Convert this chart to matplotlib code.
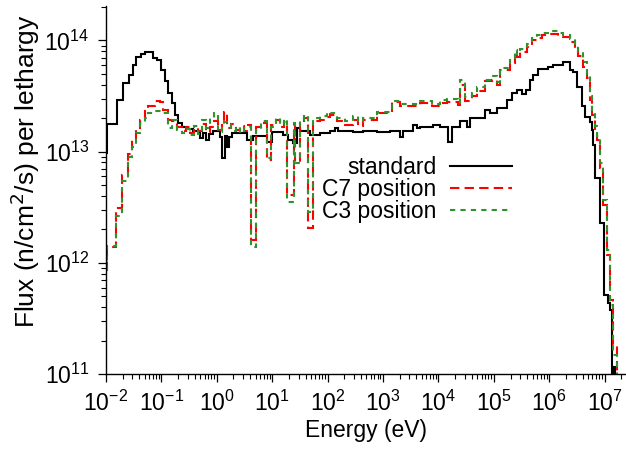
import matplotlib
matplotlib.use("Agg")
import matplotlib.pyplot as plt
from matplotlib.ticker import LogLocator, NullFormatter

plt.rcParams['font.family'] = ['Liberation Sans', 'DejaVu Sans']
plt.rcParams['axes.unicode_minus'] = False

# standard core: bin edges (eV) and flux per lethargy
std_edges = [1.00e-2, 1.03e-2, 1.56e-2, 2.05e-2, 2.63e-2, 3.11e-2, 3.48e-2, 4.23e-2, 5.06e-2, 6.22e-2,
             7.14e-2, 8.22e-2, 9.84e-2, 0.116, 0.133, 0.153, 0.176, 0.202, 0.232, 0.286,
             0.371, 0.498, 0.564, 0.638, 0.723, 0.853, 1.14, 1.24, 1.41, 1.53,
             1.66, 1.88, 3.51, 4.50, 8.06, 9.91, 15.7, 19.3, 23.7, 28.0,
             31.8, 48.1, 72.9, 110, 136, 154, 287, 436, 780, 1.34e3,
             2.03e3, 2.30e3, 3.48e3, 4.11e3, 4.66e3, 8.00e3, 1.07e4, 1.49e4, 1.76e4, 2.45e4,
             3.28e4, 3.72e4, 6.93e4, 8.54e4, 1.14e5, 1.73e5, 2.13e5, 2.62e5, 3.23e5, 3.81e5,
             4.50e5, 5.10e5, 6.28e5, 9.51e5, 1.17e6, 1.77e6, 2.37e6, 2.69e6, 3.18e6, 3.91e6,
             4.43e6, 5.45e6, 5.85e6, 6.25e6, 6.71e6, 8.26e6, 9.75e6, 1.15e7, 1.25e7, 1.36e7,
             1.42e7, 1.57e7, 1.75e7]
std_flux = [9.75e12, 1.78e13, 2.93e13, 4.16e13, 4.91e13, 6.04e13, 7.13e13, 7.59e13, 7.87e13, 7.96e13,
            6.98e13, 6.61e13, 5.45e13, 4.28e13, 3.38e13, 2.75e13, 2.14e13, 1.82e13, 1.67e13, 1.60e13,
            1.54e13, 1.33e13, 1.48e13, 1.28e13, 1.45e13, 1.54e13, 1.36e13, 8.79e12, 1.39e13, 1.10e13,
            1.36e13, 1.48e13, 1.28e13, 1.37e13, 1.23e13, 1.49e13, 1.42e13, 1.28e13, 1.20e13, 1.63e13,
            1.52e13, 1.42e13, 1.46e13, 1.52e13, 1.63e13, 1.54e13, 1.49e13, 1.52e13, 1.49e13, 1.52e13,
            1.35e13, 1.55e13, 1.74e13, 1.63e13, 1.68e13, 1.74e13, 1.68e13, 1.21e13, 1.68e13, 1.87e13,
            1.68e13, 2.00e13, 2.38e13, 2.22e13, 2.46e13, 2.93e13, 3.36e13, 3.60e13, 3.31e13, 3.60e13,
            4.43e13, 4.91e13, 5.53e13, 5.83e13, 6.04e13, 6.34e13, 5.45e13, 5.26e13, 3.85e13, 2.55e13,
            2.07e13, 1.85e13, 1.57e13, 1.15e13, 5.81e12, 2.29e12, 5.14e11, 4.36e11, 3.77e11, 5e10,
            1.16e11, 5e10]

# C7 / C3 positions share the same bins
pos_edges = [1.00e-2, 1.03e-2, 1.50e-2, 1.97e-2, 2.53e-2, 2.98e-2, 3.44e-2, 4.11e-2, 5.06e-2, 5.80e-2,
             7.66e-2, 9.43e-2, 0.108, 0.133, 0.153, 0.189, 0.232, 0.278, 0.328, 0.387,
             0.458, 0.541, 0.638, 0.754, 0.889, 1.05, 1.24, 1.35, 1.53, 1.80,
             2.22, 2.62, 3.10, 3.66, 4.09, 5.10, 6.28, 8.06, 9.40, 11.7,
             13.8, 16.3, 18.7, 24.8, 25.8, 31.8, 37.5, 44.9, 53.8, 72.9,
             96.4, 110, 146, 206, 291, 358, 441, 769, 1.44e3, 2.03e3,
             4.66e3, 7.57e3, 1.07e4, 1.41e4, 2.29e4, 2.45e4, 3.02e4, 3.99e4, 4.91e4, 6.93e4,
             9.16e4, 1.13e5, 1.29e5, 1.96e5, 2.41e5, 2.59e5, 2.97e5, 3.93e5, 4.83e5, 5.94e5,
             7.32e5, 1.03e6, 1.46e6, 1.80e6, 2.37e6, 2.92e6, 3.35e6, 4.13e6, 4.75e6, 5.45e6,
             5.93e6, 6.71e6, 7.29e6, 8.26e6, 9.48e6, 1.09e7, 1.25e7, 1.44e7, 1.67e7, 1.90e7]
c7_flux = [8.6e11, 1.40e12, 3.10e12, 6.18e12, 9.55e12, 1.28e13, 1.63e13, 1.93e13, 2.30e13, 2.58e13,
           2.87e13, 2.82e13, 2.38e13, 1.93e13, 1.87e13, 1.66e13, 1.54e13, 1.67e13, 1.48e13, 1.64e13,
           1.54e13, 1.78e13, 1.51e13, 1.67e13, 1.89e13, 1.57e13, 1.74e13, 2.28e13, 1.64e13, 1.78e13,
           1.57e13, 1.71e13, 1.54e13, 1.74e13, 1.61e12, 1.67e13, 1.82e13, 8.44e12, 1.74e13, 1.93e13,
           1.67e13, 1.85e13, 4.08e12, 1.74e13, 8.15e12, 1.78e13, 2.01e13, 2.06e12, 1.89e13, 1.93e13,
           2.06e13, 2.14e13, 1.87e13, 1.74e13, 1.93e13, 1.71e13, 1.93e13, 2.22e13, 2.82e13, 2.55e13,
           2.73e13, 2.55e13, 2.73e13, 2.82e13, 2.64e13, 3.99e13, 2.87e13, 3.18e13, 3.53e13, 4.28e13,
           4.43e13, 3.99e13, 5.45e13, 6.26e13, 7.70e13, 7.13e13, 7.96e13, 8.83e13, 1.01e14, 1.05e14,
           1.13e14, 1.15e14, 1.10e14, 1.07e14, 9.79e13, 8.54e13, 7.18e13, 5.83e13, 4.59e13, 2.93e13,
           2.14e13, 1.57e13, 1.28e13, 7.15e12, 3.32e12, 1.18e12, 4.64e11, 1.82e11, 5e10]
c3_flux = [8.6e11, 1.43e12, 2.64e12, 5.46e12, 8.95e12, 1.10e13, 1.48e13, 1.82e13, 2.01e13, 2.23e13,
           2.34e13, 2.34e13, 2.23e13, 1.63e13, 1.93e13, 1.57e13, 1.48e13, 1.60e13, 1.42e13, 1.71e13,
           1.45e13, 1.93e13, 1.64e13, 2.01e13, 2.23e13, 1.51e13, 1.64e13, 1.85e13, 1.78e13, 1.54e13,
           1.67e13, 1.48e13, 1.64e13, 1.67e13, 1.39e12, 1.57e13, 1.89e13, 8.79e12, 1.67e13, 2.01e13,
           1.74e13, 1.97e13, 3.56e12, 1.82e13, 7.93e12, 1.93e13, 2.14e13, 2.87e12, 2.01e13, 2.10e13,
           2.28e13, 2.23e13, 2.01e13, 1.89e13, 2.10e13, 1.85e13, 2.01e13, 2.28e13, 2.88e13, 2.69e13,
           2.87e13, 2.69e13, 2.93e13, 2.99e13, 2.75e13, 4.43e13, 3.11e13, 3.38e13, 3.83e13, 4.43e13,
           4.81e13, 4.25e13, 5.68e13, 6.99e13, 8.25e13, 7.59e13, 8.42e13, 9.34e13, 1.06e14, 1.13e14,
           1.17e14, 1.22e14, 1.17e14, 1.13e14, 1.04e14, 9.15e13, 7.91e13, 6.43e13, 5.01e13, 3.18e13,
           2.38e13, 1.71e13, 1.39e13, 7.93e12, 3.68e12, 1.31e12, 4.18e11, 1.48e11, 5e10]

fig = plt.figure(figsize=(6.26, 4.49), dpi=100)
ax = fig.add_axes([0.1693, 0.167, 0.8307, 0.820])

ax.stairs(std_flux, std_edges, baseline=None, color='black', linewidth=1.5, label='standard')
ax.stairs(c7_flux, pos_edges, baseline=None, color='#ff0000', linewidth=1.5,
          linestyle=(0, (4.5, 2.5)), label='C7 position')
ax.stairs(c3_flux, pos_edges, baseline=None, color='#2e922e', linewidth=1.5,
          linestyle=(0, (2.5, 2.5)), label='C3 position')

ax.set_xscale('log')
ax.set_yscale('log')
ax.set_xlim(1e-2, 2.43e7)
ax.set_ylim(1e11, 2.05e14)

ax.xaxis.set_major_locator(LogLocator(base=10, numticks=20))
ax.xaxis.set_minor_locator(LogLocator(base=10, subs=range(2, 10), numticks=20))
ax.xaxis.set_minor_formatter(NullFormatter())
ax.yaxis.set_minor_formatter(NullFormatter())

for s in ['top', 'right']:
    ax.spines[s].set_visible(False)
for s in ['left', 'bottom']:
    ax.spines[s].set_linewidth(1.0)
ax.tick_params(which='major', direction='out', length=6, width=0.9, labelsize=16.5, pad=6)
ax.tick_params(which='minor', direction='out', length=3.5, width=0.8)

ax.set_xlabel('Energy (eV)', fontsize=16.5, labelpad=2)
ax.set_ylabel('Flux (n/cm$^2$/s) per lethargy', fontsize=19)
ax.yaxis.set_label_coords(-0.123, 0.55)

ax.legend(loc='upper right', bbox_to_anchor=(0.803, 0.622), frameon=False, markerfirst=False,
          fontsize=16.5, handlelength=2.7, handletextpad=0.6, labelspacing=-0.05, borderpad=0)

fig.savefig('out.png', dpi=100)
